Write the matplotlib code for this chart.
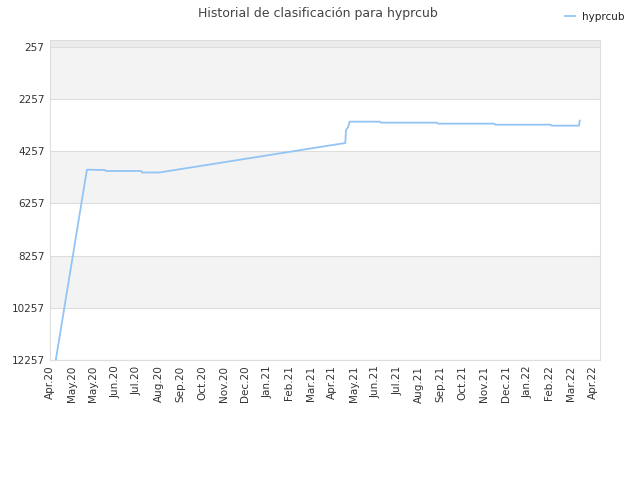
import datetime as dt
import numpy as np
import matplotlib.pyplot as plt
import matplotlib.dates as mdates

# posiciones de hyprcub (fecha, posición)
dates = ["2020-04-09", "2020-05-22", "2020-06-16", "2020-06-17", "2020-08-05",
         "2020-08-06", "2020-08-30", "2021-05-14", "2021-05-15", "2021-05-18",
         "2021-05-20", "2021-07-01", "2021-07-02", "2021-09-18", "2021-09-19",
         "2021-12-06", "2021-12-07", "2022-02-22", "2022-02-23", "2022-04-02",
         "2022-04-03"]
ranks = [12257, 4961, 4973, 5011, 5011,
         5069, 5069, 3938, 3439, 3324,
         3121, 3121, 3159, 3159, 3197,
         3197, 3236, 3236, 3274, 3274,
         3083]

y_ticks = [257, 2257, 4257, 6257, 8257, 10257, 12257]
tick_start = dt.date(2020, 4, 1)
n_ticks = 26

x = [dt.datetime.strptime(d, "%Y-%m-%d") for d in dates]

fig = plt.figure(figsize=(6.4, 4.8), dpi=100)
ax = fig.add_axes([50 / 640, 1 - 360 / 480, 550 / 640, 320 / 480])

# bandas alternas
ax.axhspan(-20, 257, color="#ebebeb", zorder=0, lw=0)
for i in range(len(y_ticks) - 1):
    if i % 2 == 0:
        ax.axhspan(y_ticks[i], y_ticks[i + 1], color="#f3f3f3", zorder=0, lw=0)
for v in y_ticks:
    ax.axhline(v, color="#dddddd", lw=0.8, zorder=1)

ax.plot(x, ranks, color="#92c5f5", lw=1.3, label="hyprcub", zorder=3)

ax.set_ylim(12257, -10)
ax.set_yticks(y_ticks)
ax.set_yticklabels([str(v) for v in y_ticks])

xt = [tick_start + dt.timedelta(days=30 * i) for i in range(n_ticks)]
ax.set_xticks(xt)
ax.set_xticklabels([d.strftime("%b.%y") for d in xt], rotation=90)
ax.set_xlim(dt.date(2020, 4, 1), dt.date(2022, 5, 1))

ax.tick_params(length=0, labelsize=7.5, colors="#333333", pad=4)
for s in ax.spines.values():
    s.set_color("#dddddd")

fig.text(0.497, 0.972, "Historial de clasificación para hyprcub", ha="center",
         va="center", fontsize=9, color="#444444")
leg = fig.legend(loc="upper right", bbox_to_anchor=(0.99, 0.995), frameon=False,
                 fontsize=7.5, handlelength=1.0, handletextpad=0.6)
for t in leg.get_texts():
    t.set_color("#222222")

fig.savefig("out.png", dpi=100)
